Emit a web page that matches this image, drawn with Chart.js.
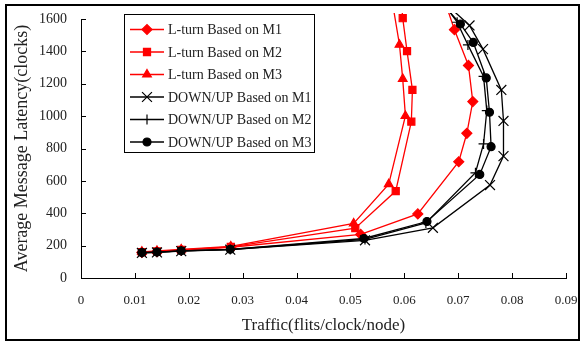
<!DOCTYPE html>
<html>
<head>
<meta charset="utf-8">
<script src="https://cdn.jsdelivr.net/npm/chart.js@4.4.1/dist/chart.umd.min.js"></script>
<style>
  html, body { margin: 0; padding: 0; background: #fff; }
  canvas { display: block; }
</style>
</head>
<body>
<canvas id="latencyChart" width="582" height="345"></canvas>
<script>
// tick labels
const xTicks = [0, 0.01, 0.02, 0.03, 0.04, 0.05, 0.06, 0.07, 0.08, 0.09];
const yTicks = [0, 200, 400, 600, 800, 1000, 1200, 1400, 1600];

// series (traffic, latency)
const lturnM1X = [0.0113, 0.0141, 0.0186, 0.0278, 0.0519, 0.0625, 0.0701, 0.0716, 0.0727, 0.0719, 0.0693, 0.0676];
const lturnM1Y = [158, 163, 172, 190, 269, 396, 718, 894, 1090, 1313, 1534, 1700];

const lturnM2X = [0.0113, 0.0141, 0.0186, 0.0278, 0.0509, 0.0584, 0.0613, 0.0615, 0.0605, 0.0597, 0.0592];
const lturnM2Y = [160, 165, 174, 192, 308, 537, 966, 1162, 1402, 1605, 1800];

const lturnM3X = [0.0113, 0.0141, 0.0186, 0.0278, 0.0506, 0.0571, 0.0602, 0.0597, 0.0591, 0.0573];
const lturnM3Y = [162, 167, 176, 195, 337, 580, 1001, 1230, 1441, 1800];

const downUpM1X = [0.0113, 0.0141, 0.0186, 0.0277, 0.0527, 0.0653, 0.0759, 0.0784, 0.0784, 0.0780, 0.0746, 0.0721, 0.0675];
const downUpM1Y = [155, 158, 166, 175, 233, 310, 574, 753, 970, 1162, 1414, 1560, 1700];

const downUpM2X = [0.0113, 0.0141, 0.0186, 0.0277, 0.0527, 0.0640, 0.0732, 0.0747, 0.0753, 0.0747, 0.0718, 0.0698, 0.0672];
const downUpM2Y = [156, 159, 167, 176, 238, 340, 650, 828, 1034, 1245, 1440, 1580, 1700];

const downUpM3X = [0.0113, 0.0141, 0.0186, 0.0277, 0.0525, 0.0642, 0.0740, 0.0761, 0.0758, 0.0752, 0.0728, 0.0704, 0.0669];
const downUpM3Y = [157, 160, 168, 177, 244, 349, 640, 811, 1024, 1236, 1455, 1569, 1700];

const seriesNames = [
  'L-turn Based on M1', 'L-turn Based on M2', 'L-turn Based on M3',
  'DOWN/UP Based on M1', 'DOWN/UP Based on M2', 'DOWN/UP Based on M3'
];

function toPoints(xs, ys) {
  return xs.map((x, i) => ({ x: x, y: ys[i] }));
}

function makeSet(label, xs, ys, color, style, radius, order) {
  return {
    label: label,
    data: toPoints(xs, ys),
    showLine: true,
    borderColor: color,
    backgroundColor: color,
    borderWidth: 1.3,
    pointStyle: style,
    pointRadius: radius,
    pointHoverRadius: radius,
    pointBorderColor: color,
    pointBackgroundColor: color,
    pointBorderWidth: 1.2,
    order: order,
    clip: { left: 5, top: 6, right: 5, bottom: 5 }
  };
}

const RED = 'rgb(255,0,0)';
const BLACK = '#000';

const datasets = [
  makeSet(seriesNames[0], lturnM1X, lturnM1Y, RED, 'rectRot', 5, 1),
  makeSet(seriesNames[1], lturnM2X, lturnM2Y, RED, 'rect', 5, 1),
  makeSet(seriesNames[2], lturnM3X, lturnM3Y, RED, 'triangle', 5, 1),
  makeSet(seriesNames[3], downUpM1X, downUpM1Y, BLACK, 'crossRot', 7, 0),
  makeSet(seriesNames[4], downUpM2X, downUpM2Y, BLACK, 'cross', 5, 0),
  makeSet(seriesNames[5], downUpM3X, downUpM3Y, BLACK, 'circle', 4, 0)
];

const serif = "'Liberation Serif', 'Times New Roman', serif";
Chart.defaults.font.family = serif;
Chart.defaults.color = '#222';

// inward tick marks, framed legend, outer border
const decorPlugin = {
  id: 'decor',
  afterDraw(chart) {
    const ctx = chart.ctx;
    const area = chart.chartArea;
    const xs = chart.scales.x, ys = chart.scales.y;
    ctx.save();
    ctx.strokeStyle = '#000';
    ctx.lineWidth = 1;
    ctx.beginPath();
    xTicks.forEach(v => {
      const px = Math.round(xs.getPixelForValue(v)) + 0.5;
      ctx.moveTo(px, area.bottom);
      ctx.lineTo(px, area.bottom - 5);
    });
    yTicks.forEach(v => {
      const py = Math.round(ys.getPixelForValue(v)) + 0.5;
      ctx.moveTo(area.left, py);
      ctx.lineTo(area.left + 5, py);
    });
    ctx.stroke();

    // legend box
    ctx.fillStyle = '#fff';
    ctx.fillRect(124.5, 14.5, 190, 138);
    ctx.strokeRect(124.5, 14.5, 190, 138);
    chart.data.datasets.forEach((ds, i) => {
      const y = 29.5 + i * 22.5;
      ctx.strokeStyle = ds.borderColor;
      ctx.lineWidth = 1.3;
      ctx.beginPath();
      ctx.moveTo(130, y);
      ctx.lineTo(164, y);
      ctx.stroke();
      ctx.fillStyle = ds.pointBackgroundColor;
      ctx.strokeStyle = ds.pointBorderColor;
      ctx.lineWidth = ds.pointBorderWidth;
      Chart.helpers.drawPoint(ctx, {
        pointStyle: ds.pointStyle,
        radius: ds.pointRadius,
        borderWidth: ds.pointBorderWidth,
        rotation: 0
      }, 147, y);
      ctx.fillStyle = '#222';
      ctx.font = '14px ' + serif;
      ctx.textBaseline = 'middle';
      ctx.textAlign = 'left';
      ctx.fillText(ds.label, 168, y + 1);
    });

    // outer frame
    ctx.strokeStyle = '#000';
    ctx.lineWidth = 2;
    ctx.strokeRect(6, 5, 573, 335);
    ctx.restore();
  }
};

const ctx = document.getElementById('latencyChart').getContext('2d');

const config = {
  type: 'scatter',
  data: { datasets: datasets },
  options: {
    responsive: false,
    animation: false,
    layout: { padding: { left: 0, right: 16, top: 19, bottom: 0 } },
    plugins: {
      legend: { display: false },
      tooltip: { enabled: false }
    },
    scales: {
      x: {
        type: 'linear',
        min: 0,
        max: 0.09,
        afterBuildTicks: (scale) => { scale.ticks = xTicks.map(v => ({ value: v })); },
        afterFit: (scale) => {
          scale.height = 67;
          scale.paddingLeft = 0;
          scale.paddingRight = 0;
        },
        grid: { display: true, drawOnChartArea: false, drawTicks: false },
        border: { display: true, color: '#000', width: 1 },
        ticks: {
          padding: 15,
          maxRotation: 0,
          autoSkip: false,
          font: { size: 13 },
          color: '#222',
          callback: (v) => v === 0 ? '0' : String(+v.toFixed(2))
        },
        title: {
          display: true,
          text: 'Traffic(flits/clock/node)',
          font: { size: 17 },
          color: '#222',
          padding: { top: 0, bottom: 9 }
        }
      },
      y: {
        type: 'linear',
        min: 0,
        max: 1600,
        afterBuildTicks: (scale) => { scale.ticks = yTicks.map(v => ({ value: v })); },
        afterFit: (scale) => {
          scale.width = 81;
          scale.paddingTop = 0;
          scale.paddingBottom = 0;
        },
        grid: { display: true, drawOnChartArea: false, drawTicks: false },
        border: { display: true, color: '#000', width: 1 },
        ticks: {
          padding: 14,
          autoSkip: false,
          font: { size: 14 },
          color: '#222',
          callback: (v) => String(v)
        },
        title: {
          display: true,
          text: 'Average Message Latency(clocks)',
          font: { size: 18 },
          color: '#222',
          padding: { top: 11, bottom: 0 }
        }
      }
    }
  },
  plugins: [decorPlugin]
};

const latencyChart = new Chart(ctx, config);
</script>
</body>
</html>
